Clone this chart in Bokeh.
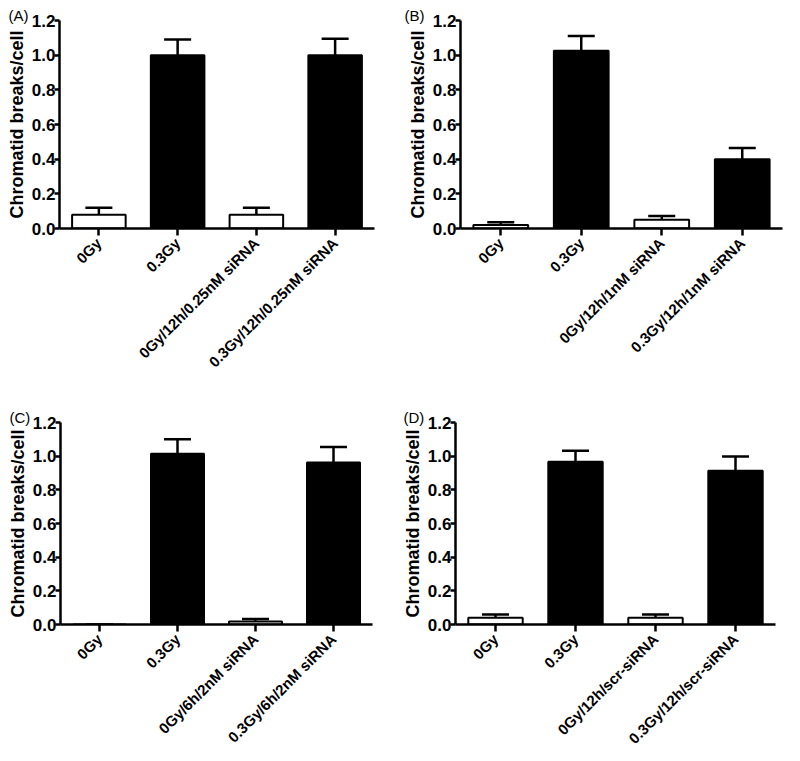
from math import pi
from bokeh.plotting import figure
from bokeh.layouts import column, row
from bokeh.models import FactorRange, Range1d, FixedTicker, NumeralTickFormatter, ColumnDataSource, Title
from bokeh.embed import file_html
from bokeh.resources import INLINE

# ---------------- data ----------------
cats_A = ["0Gy", "0.3Gy", "0Gy/12h/0.25nM siRNA", "0.3Gy/12h/0.25nM siRNA"]
mean_A = [0.08, 1.0, 0.08, 1.0]
upper_A = [0.12, 1.09, 0.12, 1.095]

cats_B = ["0Gy", "0.3Gy", "0Gy/12h/1nM siRNA", "0.3Gy/12h/1nM siRNA"]
mean_B = [0.02, 1.025, 0.05, 0.40]
upper_B = [0.036, 1.11, 0.072, 0.465]

cats_C = ["0Gy", "0.3Gy", "0Gy/6h/2nM siRNA", "0.3Gy/6h/2nM siRNA"]
mean_C = [0.0, 1.015, 0.018, 0.962]
upper_C = [0.0, 1.10, 0.033, 1.055]

cats_D = ["0Gy", "0.3Gy", "0Gy/12h/scr-siRNA", "0.3Gy/12h/scr-siRNA"]
mean_D = [0.04, 0.967, 0.04, 0.914]
upper_D = [0.06, 1.032, 0.06, 0.998]

fills = ["white", "black", "white", "black"]
y_ticks = [0.0, 0.2, 0.4, 0.6, 0.8, 1.0, 1.2]
y_label = "Chromatid breaks/cell"

FONT = "Liberation Sans"


def make_panel(letter, letter_offset, cats, means, uppers, w, h, bl, br, bt, bb):
    p = figure(x_range=FactorRange(*cats, range_padding=0), y_range=Range1d(0, 1.2),
               width=w, height=h, output_backend="svg", toolbar_location=None)
    p.min_border = 0
    p.min_border_left = bl
    p.min_border_right = br
    p.min_border_top = bt
    p.min_border_bottom = bb
    p.outline_line_color = None
    p.xgrid.visible = False
    p.ygrid.visible = False

    src = ColumnDataSource(dict(x=cats, top=means, up=uppers, fill=fills))
    p.segment(x0="x", y0="top", x1="x", y1="up", source=src, line_color="black", line_width=2.5)
    p.scatter(x="x", y="up", marker="dash", size=27, line_width=2.5, line_color="black", source=src)
    p.vbar(x="x", top="top", width=0.68, fill_color="fill", line_color="black", line_width=2, source=src)

    ya = p.yaxis[0]
    ya.ticker = FixedTicker(ticks=y_ticks)
    ya.formatter = NumeralTickFormatter(format="0.0")
    ya.axis_label = y_label
    ya.axis_label_text_font = FONT
    ya.axis_label_text_font_style = "bold"
    ya.axis_label_text_font_size = "18px"
    ya.axis_label_text_color = "black"
    ya.axis_label_standoff = 2
    ya.major_label_text_font = FONT
    ya.major_label_text_font_style = "bold"
    ya.major_label_text_font_size = "17px"
    ya.major_label_text_color = "black"
    ya.major_label_standoff = -1
    ya.axis_line_width = 2.5
    ya.major_tick_line_width = 2.5
    ya.major_tick_out = 5
    ya.major_tick_in = 0
    ya.minor_tick_line_color = None

    xa = p.xaxis[0]
    xa.major_label_orientation = pi / 4
    xa.major_label_text_font = FONT
    xa.major_label_text_font_style = "bold"
    xa.major_label_text_font_size = "15px"
    xa.major_label_text_color = "black"
    xa.major_label_standoff = 5
    xa.axis_line_width = 2.5
    xa.major_tick_line_width = 2.5
    xa.major_tick_out = 7
    xa.major_tick_in = 0
    xa.minor_tick_line_color = None

    p.add_layout(Title(text=letter, align="left", offset=letter_offset, standoff=-7,
                       text_font=FONT, text_font_size="15px", text_font_style="normal",
                       text_color="black"), "above")
    return p


pA = make_panel("(A)", -51, cats_A, mean_A, upper_A, 392, 379, 59, 18, 20, 151)
pB = make_panel("(B)", -56, cats_B, mean_B, upper_B, 392, 379, 68, 2, 16, 150)
pC = make_panel("(C)", -51, cats_C, mean_C, upper_C, 392, 376, 60, 20, 43, 128)
pD = make_panel("(D)", -52, cats_D, mean_D, upper_D, 392, 376, 63, 9, 40, 126)

layout = column(row(pA, pB), row(pC, pD))

open("out.html", "w").write(file_html(layout, INLINE))
